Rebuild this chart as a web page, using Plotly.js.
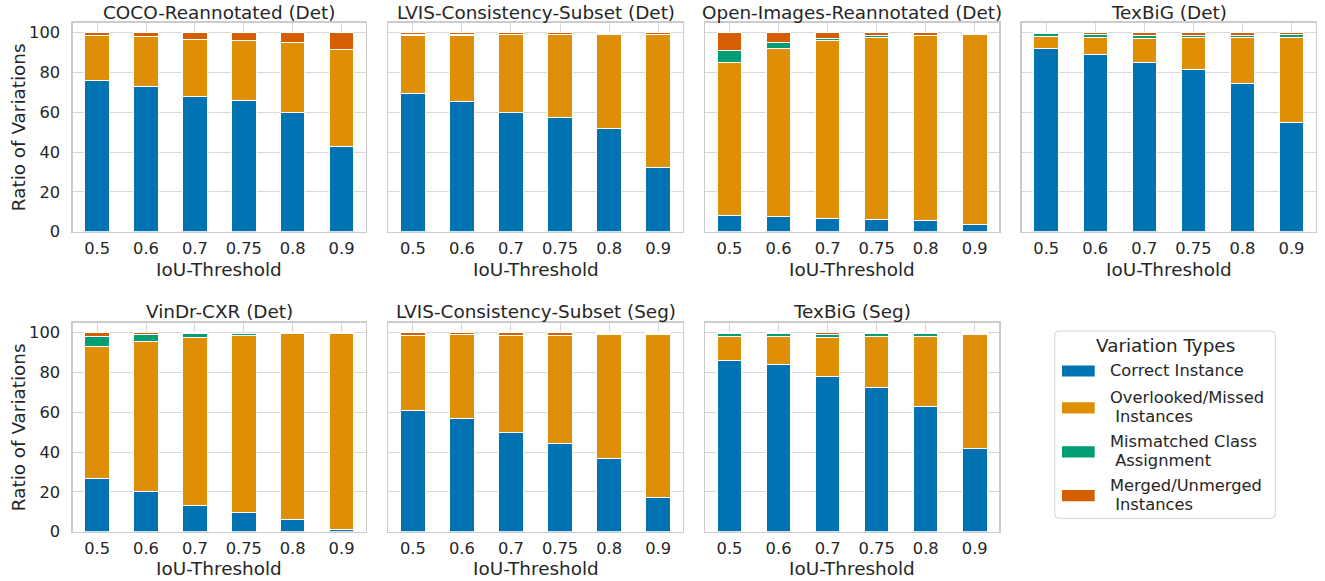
<!DOCTYPE html>
<html>
<head>
<meta charset="utf-8">
<script src="https://cdn.plot.ly/plotly-3.0.1.min.js"></script>
<style>html,body{margin:0;padding:0;background:#fff;}#chart{width:1325px;height:581px;}</style>
</head>
<body>
<div id="chart"></div>
<script>
// ---------- data ----------
const thresholds = ['0.5', '0.6', '0.7', '0.75', '0.8', '0.9'];
const panelTitles = ['COCO-Reannotated (Det)', 'LVIS-Consistency-Subset (Det)', 'Open-Images-Reannotated (Det)', 'TexBiG (Det)',
                     'VinDr-CXR (Det)', 'LVIS-Consistency-Subset (Seg)', 'TexBiG (Seg)'];
const seriesNames = ['Correct Instance', 'Overlooked/Missed\n Instances', 'Mismatched Class\n Assignment', 'Merged/Unmerged\n Instances'];
const legendTitle = 'Variation Types';
const xTitle = 'IoU-Threshold';
const yTitle = 'Ratio of Variations';
const yTicks = [0, 20, 40, 60, 80, 100];

// each dataset: [correct, overlooked, mismatched, merged]
const cocoDet = [
  [76.1, 73.2, 68.1, 65.7, 60.0, 43.0],
  [22.6, 25.1, 28.4, 30.3, 35.2, 48.6],
  [0.0, 0.0, 0.0, 0.0, 0.0, 0.0],
  [1.3, 1.7, 3.5, 4.0, 4.8, 8.4]
];
const lvisDet = [
  [69.4, 65.6, 59.9, 57.4, 52.0, 32.1],
  [29.3, 33.1, 39.1, 41.6, 47.2, 66.9],
  [0.2, 0.2, 0.2, 0.2, 0.2, 0.2],
  [1.1, 1.1, 0.8, 0.8, 0.6, 0.8]
];
const openImagesDet = [
  [8.0, 7.5, 6.7, 6.2, 5.7, 3.7],
  [77.0, 84.5, 89.6, 91.5, 92.8, 95.5],
  [6.1, 3.0, 1.0, 0.8, 0.2, 0.2],
  [8.9, 5.0, 2.7, 1.5, 1.3, 0.6]
];
const texbigDet = [
  [91.8, 89.0, 85.0, 81.4, 74.7, 54.7],
  [6.5, 8.7, 12.3, 16.3, 23.0, 43.0],
  [1.2, 1.3, 1.4, 1.0, 1.0, 1.3],
  [0.5, 1.0, 1.3, 1.3, 1.3, 1.0]
];
const vindrDet = [
  [26.8, 20.4, 13.4, 9.5, 5.9, 1.2],
  [66.3, 75.4, 84.4, 89.2, 93.6, 98.3],
  [5.1, 3.4, 1.7, 0.8, 0.3, 0.3],
  [1.8, 0.8, 0.5, 0.2, 0.2, 0.2]
];
const lvisSeg = [
  [61.0, 56.7, 49.7, 44.5, 37.0, 17.2],
  [37.7, 42.3, 49.0, 54.2, 62.3, 82.1],
  [0.1, 0.1, 0.1, 0.1, 0.1, 0.1],
  [1.2, 0.9, 1.2, 1.2, 0.6, 0.6]
];
const texbigSeg = [
  [86.0, 83.8, 78.1, 72.6, 63.0, 42.0],
  [12.3, 14.2, 19.6, 25.4, 35.3, 57.0],
  [1.5, 1.8, 1.5, 1.8, 1.5, 0.7],
  [0.2, 0.2, 0.8, 0.2, 0.2, 0.3]
];
const datasets = [cocoDet, lvisDet, openImagesDet, texbigDet, vindrDet, lvisSeg, texbigSeg];

// ---------- styling ----------
const colors = ['#0173b2', '#de8f05', '#029e73', '#d55e00'];
const W = 1325, H = 581;
const FONT = 'DejaVu Sans, Liberation Sans, sans-serif';
const TXT = '#262626';
const px2x = p => p / W;
const px2y = p => 1 - p / H;
const TITLE_SIZE = 18.4, TICK_SIZE = 16.3, LEG_SIZE = 16.3;

const colPx = [[72.7, 366], [388.3, 682.7], [705, 999.3], [1021.7, 1316]];
const rowPx = [[22.7, 231.7], [322.7, 531.7]];
const titleY = [12, 311];
const xTitleY = [269, 568.5];
const yTitleX = 18;

const traces = [];
const layout = {
  width: W, height: H,
  margin: {l: 0, r: 0, t: 0, b: 0},
  paper_bgcolor: '#fff', plot_bgcolor: '#fff',
  barmode: 'stack', bargap: 0.5,
  showlegend: false,
  font: {family: FONT, color: TXT, size: 16},
  annotations: [], shapes: []
};

datasets.forEach((ds, i) => {
  const row = i < 4 ? 0 : 1;
  const col = i < 4 ? i : i - 4;
  const n = i + 1;
  const xa = 'x' + (n === 1 ? '' : n), ya = 'y' + (n === 1 ? '' : n);
  ds.forEach((vals, s) => {
    traces.push({
      type: 'bar', x: thresholds, y: vals, name: seriesNames[s].replace('\n', ''),
      xaxis: xa, yaxis: ya,
      marker: {color: colors[s], line: {color: '#ffffff', width: 1}},
      hoverinfo: 'x+y+name'
    });
  });
  const xd = [px2x(colPx[col][0]), px2x(colPx[col][1])];
  const yd = [px2y(rowPx[row][1]), px2y(rowPx[row][0])];
  layout['xaxis' + (n === 1 ? '' : n)] = {
    domain: xd, anchor: ya, type: 'category', range: [-0.5, 5.5],
    showgrid: true, gridcolor: '#d9d9d9', gridwidth: 1,
    showline: true, mirror: true, linecolor: '#cccccc', linewidth: 1.25,
    ticks: '', ticklabelstandoff: 1,
    tickfont: {family: FONT, size: TICK_SIZE, color: TXT},
    zeroline: false, fixedrange: true
  };
  layout['yaxis' + (n === 1 ? '' : n)] = {
    domain: yd, anchor: xa, range: [0, 105],
    tickvals: yTicks, showticklabels: col === 0,
    showgrid: true, gridcolor: '#d9d9d9', gridwidth: 1,
    showline: true, mirror: true, linecolor: '#cccccc', linewidth: 1.25,
    ticks: '', ticklabelstandoff: 8,
    tickfont: {family: FONT, size: TICK_SIZE, color: TXT},
    zeroline: false, fixedrange: true
  };
  // panel title
  layout.annotations.push({
    xref: 'paper', yref: 'paper', x: (xd[0] + xd[1]) / 2, y: px2y(titleY[row]),
    xanchor: 'center', yanchor: 'middle', showarrow: false,
    text: panelTitles[i], font: {family: FONT, size: TITLE_SIZE, color: TXT}
  });
  // x axis title
  layout.annotations.push({
    xref: 'paper', yref: 'paper', x: (xd[0] + xd[1]) / 2, y: px2y(xTitleY[row]),
    xanchor: 'center', yanchor: 'middle', showarrow: false,
    text: xTitle, font: {family: FONT, size: TITLE_SIZE, color: TXT}
  });
  // y axis title
  if (col === 0) {
    layout.annotations.push({
      xref: 'paper', yref: 'paper', x: px2x(yTitleX), y: (yd[0] + yd[1]) / 2,
      xanchor: 'center', yanchor: 'middle', showarrow: false, textangle: -90,
      text: yTitle, font: {family: FONT, size: TITLE_SIZE, color: TXT}
    });
  }
});

// ---------- legend (drawn) ----------
const lg = {l: 1054.7, r: 1275.3, t: 331, b: 518.3};
const rr = 4;
layout.shapes.push({
  type: 'path', xref: 'paper', yref: 'paper',
  path: (() => {
    const L = px2x(lg.l), R = px2x(lg.r), T = px2y(lg.t), B = px2y(lg.b);
    const dx = px2x(rr), dy = rr / H;
    return `M ${L + dx},${T} L ${R - dx},${T} Q ${R},${T} ${R},${T - dy} L ${R},${B + dy} Q ${R},${B} ${R - dx},${B} L ${L + dx},${B} Q ${L},${B} ${L},${B + dy} L ${L},${T - dy} Q ${L},${T} ${L + dx},${T} Z`;
  })(),
  line: {color: '#d4d4d4', width: 1}, fillcolor: 'rgba(255,255,255,0.8)', layer: 'above'
});
layout.annotations.push({
  xref: 'paper', yref: 'paper', x: px2x(1165), y: px2y(345.5), xanchor: 'center', yanchor: 'middle',
  showarrow: false, text: legendTitle, font: {family: FONT, size: TITLE_SIZE, color: TXT}
});
const itemCy = [371, 407.8, 451.8, 495.7];
const lineGap = 19;
seriesNames.forEach((nm, s) => {
  const cy = itemCy[s];
  layout.shapes.push({
    type: 'rect', xref: 'paper', yref: 'paper',
    x0: px2x(1062), x1: px2x(1094.7), y0: px2y(cy - 5.6), y1: px2y(cy + 5.6),
    fillcolor: colors[s], line: {color: colors[s], width: 0}, layer: 'above'
  });
  const lines = nm.split('\n');
  lines.forEach((ln, k) => {
    const ly = cy + (k - (lines.length - 1) / 2) * lineGap - 1;
    layout.annotations.push({
      xref: 'paper', yref: 'paper', x: px2x(1107.5), y: px2y(ly), xanchor: 'left', yanchor: 'middle', align: 'left',
      showarrow: false, text: ln, font: {family: FONT, size: LEG_SIZE, color: TXT}
    });
  });
});

Plotly.newPlot('chart', traces, layout, {displayModeBar: false, staticPlot: true});
</script>
</body>
</html>
